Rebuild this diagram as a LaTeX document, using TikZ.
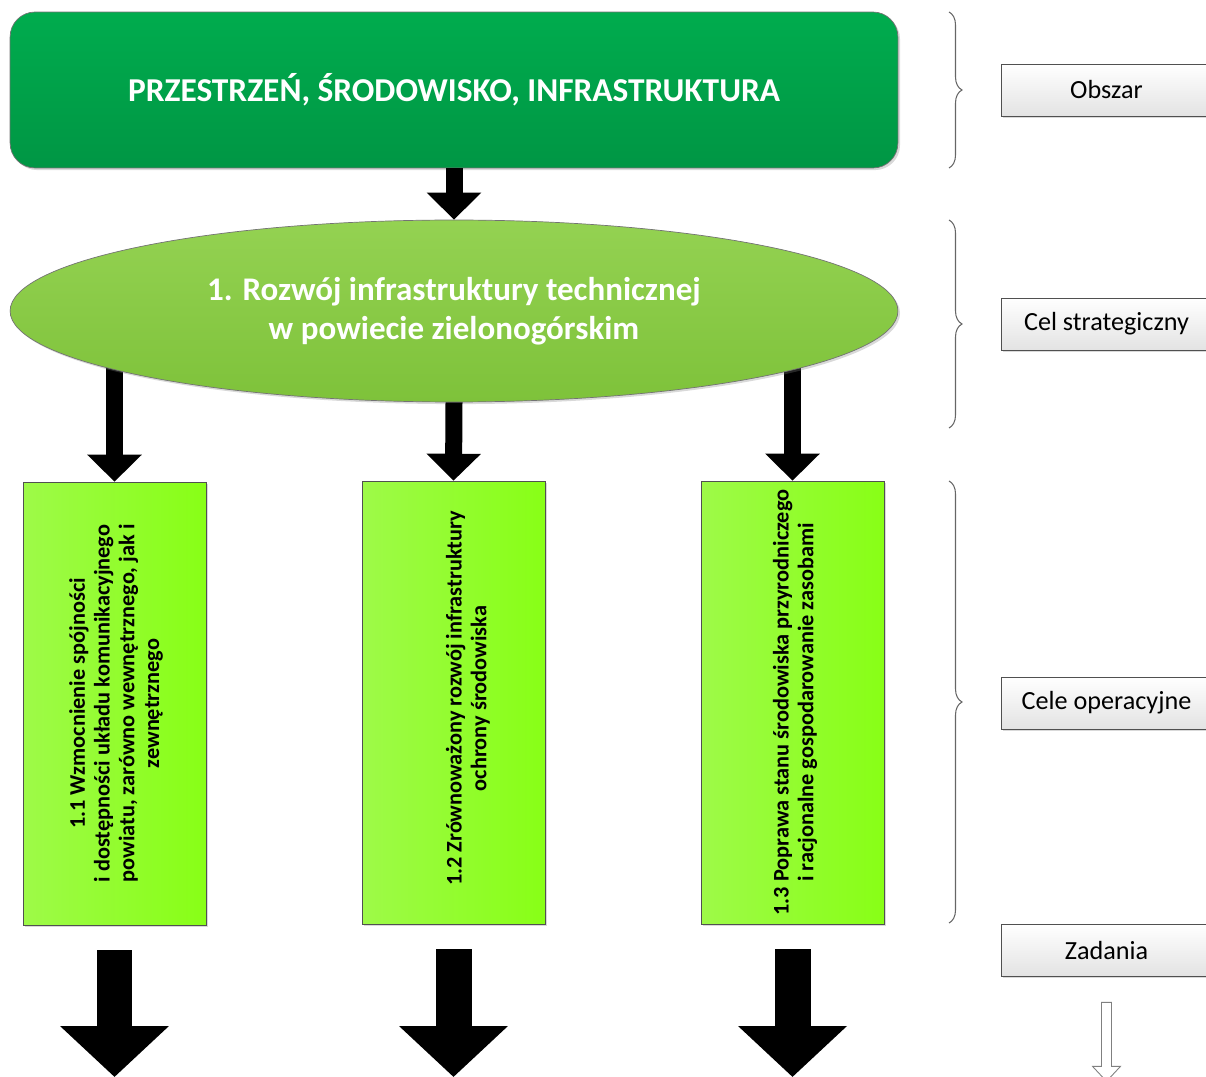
\documentclass[tikz,border=0pt]{standalone}
\usepackage{fontspec}
\setmainfont{Carlito}
\usepackage{xcolor}
\definecolor{ciemnyziel}{RGB}{0,172,78}
\definecolor{ciemnyziel2}{RGB}{0,150,68}
\definecolor{oliwka}{RGB}{148,210,82}
\definecolor{oliwka2}{RGB}{126,194,58}
\definecolor{limon}{RGB}{158,250,72}
\definecolor{limon2}{RGB}{136,255,22}
\definecolor{ramka}{RGB}{80,80,80}
\usetikzlibrary{shapes.geometric, arrows.meta, positioning, shadows,
                decorations.pathreplacing, backgrounds, calc}

\begin{document}
\begin{tikzpicture}[
    x=0.02cm, y=-0.02cm,
    cien/.style={drop shadow={shadow xshift=1.2pt, shadow yshift=-1.2pt,
                 opacity=0.3, fill=gray}},
    obszar/.style={rectangle, rounded corners=0.5cm, draw=ramka!80, cien,
                   top color=ciemnyziel, bottom color=ciemnyziel2,
                   minimum width=17.76cm, minimum height=3.12cm,
                   text=white, font=\fontsize{19}{23}\selectfont\bfseries},
    celstr/.style={ellipse, draw=ramka!80, cien,
                   top color=oliwka, bottom color=oliwka2,
                   minimum width=17.76cm, minimum height=3.64cm, align=center,
                   text=white, font=\fontsize{18.8}{22.2}\selectfont\bfseries},
    celop/.style={rectangle, draw=ramka, cien,
                  left color=limon, right color=limon2,
                  minimum width=3.66cm, minimum height=8.86cm},
    celoptxt/.style={rotate=90, align=center, inner sep=0pt,
                     font=\fontsize{12.7}{14.1}\selectfont\bfseries},
    etykieta/.style={rectangle, draw=ramka, cien,
                     top color=white, bottom color=gray!22,
                     minimum width=4.22cm, minimum height=1.04cm,
                     font=\fontsize{14.9}{17}\selectfont},
    strzalka/.style={line width=0.34cm, -{Triangle[width=1.06cm, length=0.54cm]}},
    strzalkaduza/.style={line width=0.72cm, -{Triangle[width=2.12cm, length=1.02cm]}},
    klamra/.style={decorate, decoration={brace, amplitude=0.26cm},
                   draw=gray!80!black, line width=0.6pt}
  ]
  \useasboundingbox (0,0) rectangle (1206,1077);
  \clip (0,0) rectangle (1206,1077);

  % Obszar
  \node[obszar] (top) at (454,90) {PRZESTRZEŃ, ŚRODOWISKO, INFRASTRUKTURA};

  % Cel strategiczny
  \node[celstr] (cel) at (454,311)
    {1. Rozwój infrastruktury technicznej\\w powiecie zielonogórskim};
  \draw[strzalka] (top.south) -- (cel.north);

  % Cele operacyjne
  \node[celop] (c1) at (114.5,703.5) {};
  \node[celop] (c2) at (453.5,702.5) {};
  \node[celop] (c3) at (792.5,702.5) {};
  \node[celoptxt] (t1) at ([xshift=0.03cm]c1.center)
    {1.1 Wzmocnienie spójności\\i dostępności układu komunikacyjnego\\
     powiatu, zarówno wewnętrznego, jak i\\zewnętrznego};
  \node[celoptxt] (t2) at ([xshift=0.29cm,yshift=0.08cm]c2.center)
    {1.2 Zrównoważony rozwój infrastruktury\\ochrony środowiska};
  \node[celoptxt] (t3) at ([xshift=0.05cm]c3.center)
    {1.3 Poprawa stanu środowiska przyrodniczego\\i racjonalne gospodarowanie zasobami};

  \begin{scope}[on background layer]
    \draw[strzalka] (cel.center -| c1.north) -- (c1.north);
    \draw[strzalka] (cel.center -| c3.north) -- (c3.north);
  \end{scope}
  \draw[strzalka] (cel.south) -- (c2.north);

  % Zadania (strzalki w dol)
  \foreach \c in {c1,c2,c3} {
    \coordinate (\c-dol) at (\c.south |- 0,1077);
    \draw[strzalkaduza] ([yshift=-0.5cm]\c.south) -- (\c-dol);
  }

  % Legenda po prawej
  \draw[klamra] (949,12) -- (949,168);
  \draw[klamra] (949,220) -- (949,428);
  \draw[klamra] (949,481) -- (949,923);
  \node[etykieta] (lobszar) at (1106.5,90)  {Obszar};
  \node[etykieta] (lcel)    at (1106.5,324) {Cel strategiczny};
  \node[etykieta] (lop)     at (1106.5,703) {Cele operacyjne};
  \node[etykieta] (lzad)    at (1106.5,950) {Zadania};
  \draw[draw=gray, fill=white, line width=0.5pt]
    ([xshift=-0.1cm,yshift=-0.52cm]lzad.south) -- ++(10,0) -- ++(0,64)
    -- ++(9,0) -- ++(-14,15) -- ++(-14,-15) -- ++(9,0) -- cycle;
\end{tikzpicture}
\end{document}
